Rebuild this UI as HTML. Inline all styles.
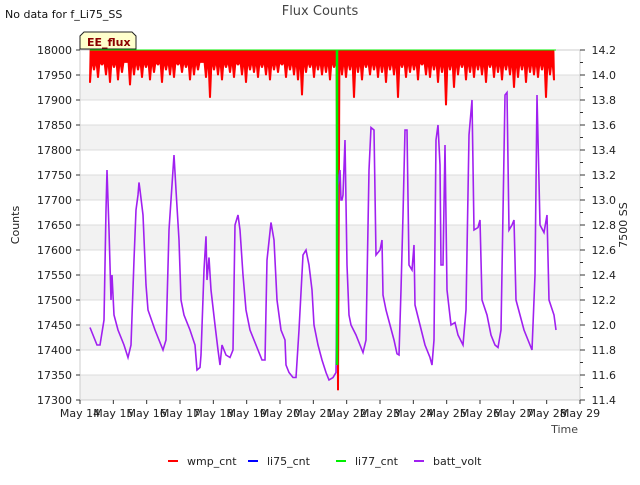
<!DOCTYPE html>
<html><head><meta charset="utf-8"><style>
body{margin:0;background:#fff;font-family:"Liberation Sans","DejaVu Sans",sans-serif}
svg text{font-family:"DejaVu Sans","Liberation Sans",sans-serif}
</style></head><body>
<svg id="c" width="640" height="480" xmlns="http://www.w3.org/2000/svg"></svg>
<script>
const leftTicks=[17300,17350,17400,17450,17500,17550,17600,17650,17700,17750,17800,17850,17900,17950,18000];
const rightTicks=[11.4,11.6,11.8,12.0,12.2,12.4,12.6,12.8,13.0,13.2,13.4,13.6,13.8,14.0,14.2];
const xTickLabels=["May 14","May 15","May 16","May 17","May 18","May 19","May 20","May 21","May 22","May 23","May 24","May 25","May 26","May 27","May 28","May 29"];
const battDays=[0.30,0.51,0.60,0.72,0.78,0.81,0.87,0.93,0.96,1.02,1.14,1.32,1.44,1.53,1.62,1.68,1.74,1.77,1.80,1.89,1.98,2.04,2.25,2.40,2.49,2.58,2.67,2.73,2.82,2.88,2.97,3.03,3.12,3.30,3.45,3.51,3.60,3.63,3.72,3.78,3.81,3.87,3.93,4.05,4.14,4.20,4.26,4.38,4.50,4.59,4.65,4.74,4.80,4.89,4.98,5.10,5.28,5.46,5.55,5.61,5.73,5.82,5.91,6.03,6.15,6.18,6.27,6.39,6.48,6.57,6.69,6.78,6.87,6.96,7.02,7.14,7.26,7.38,7.47,7.59,7.68,7.74,7.80,7.83,7.86,7.89,7.95,8.01,8.07,8.13,8.28,8.40,8.49,8.58,8.67,8.73,8.82,8.88,9.00,9.06,9.09,9.18,9.30,9.42,9.51,9.57,9.63,9.69,9.75,9.81,9.87,9.96,10.02,10.05,10.20,10.35,10.50,10.56,10.62,10.68,10.74,10.80,10.83,10.89,10.95,11.01,11.13,11.25,11.34,11.49,11.58,11.67,11.76,11.82,11.94,12.00,12.06,12.21,12.33,12.45,12.54,12.63,12.75,12.81,12.87,12.96,13.02,13.08,13.20,13.32,13.44,13.56,13.65,13.71,13.80,13.92,14.01,14.07,14.22,14.28];
const battVolt=[11.98,11.84,11.84,12.04,12.92,13.24,12.76,12.2,12.4,12.08,11.96,11.84,11.74,11.84,12.52,12.92,13.04,13.14,13.08,12.88,12.32,12.12,11.96,11.86,11.8,11.88,12.76,13.0,13.36,13.08,12.68,12.2,12.08,11.96,11.84,11.64,11.66,11.76,12.44,12.71,12.36,12.54,12.28,12.0,11.8,11.68,11.84,11.76,11.74,11.8,12.8,12.88,12.76,12.4,12.12,11.96,11.84,11.72,11.72,12.52,12.82,12.68,12.2,11.96,11.88,11.68,11.62,11.58,11.58,11.96,12.56,12.6,12.48,12.28,12.0,11.84,11.72,11.62,11.56,11.58,11.62,13.12,13.24,13.0,13.0,13.04,13.48,12.48,12.08,12.0,11.92,11.84,11.78,11.88,13.24,13.58,13.56,12.56,12.6,12.68,12.24,12.12,12.0,11.88,11.77,11.76,12.28,12.88,13.56,13.56,12.48,12.44,12.64,12.16,12.0,11.84,11.74,11.68,11.88,13.48,13.6,13.28,12.48,12.48,13.44,12.28,12.0,12.02,11.92,11.84,12.12,13.52,13.8,12.76,12.78,12.84,12.2,12.08,11.92,11.84,11.82,11.96,13.84,13.86,12.76,12.8,12.84,12.2,12.08,11.96,11.88,11.8,12.4,13.84,12.8,12.74,12.88,12.2,12.08,11.96];
const wmpStart=0.30, wmpStep=0.12;
const wmpMin=[17935,17960,17945,17970,17950,17935,17965,17940,17955,17975,17930,17950,17960,17945,17965,17940,17955,17970,17935,17960,17950,17945,17970,17955,17965,17940,17950,17960,17975,17945,17905,17960,17950,17940,17965,17955,17945,17970,17950,17935,17960,17955,17945,17965,17950,17940,17960,17955,17970,17945,17960,17950,17940,17910,17955,17965,17945,17960,17950,17955,17940,17965,17320,17950,17945,17960,17905,17955,17940,17965,17950,17960,17945,17955,17935,17960,17950,17905,17965,17945,17955,17960,17940,17970,17950,17945,17960,17935,17955,17890,17960,17925,17950,17965,17940,17955,17945,17960,17950,17935,17965,17945,17955,17940,17960,17950,17925,17945,17960,17935,17955,17950,17945,17960,17905,17950,17940];
const wmpBase=17975;
const li77Day=7.71, li77Lo=17370, li77Hi=18000;

const svg=document.getElementById('c');const NS='http://www.w3.org/2000/svg';
const X0=80,X1=580,Y0=50,Y1=400;
const xs=d=>X0+(X1-X0)*d/15;
const yl=v=>Y1-(v-17300)/700*(Y1-Y0);
const yr=v=>Y1-(v-11.4)/2.8*(Y1-Y0);
function el(t,a,p){const e=document.createElementNS(NS,t);for(const k in a)e.setAttribute(k,a[k]);(p||svg).appendChild(e);return e;}
for(let i=0;i<leftTicks.length-1;i+=2){
 const b=el('rect',{x:X0,y:yl(leftTicks[i+1]),width:X1-X0,height:yl(leftTicks[i])-yl(leftTicks[i+1]),fill:'#f2f2f2'});
 
}
leftTicks.forEach(v=>{const l=el('line',{x1:X0,x2:X1,y1:yl(v),y2:yl(v),stroke:'#dcdcdc','stroke-width':1});
 });
el('rect',{x:X0,y:Y0,width:X1-X0,height:Y1-Y0,fill:'none',stroke:'#ccc'});
leftTicks.forEach(v=>{const t=el('text',{x:X0-8,y:yl(v)+4,'text-anchor':'end','font-size':11,fill:'#222'});t.textContent=v;
 
 el('line',{x1:X0-4,x2:X0,y1:yl(v),y2:yl(v),stroke:'#333'});});
rightTicks.forEach((v,i)=>{const t=el('text',{x:X1+36,y:yr(v)+4,'text-anchor':'end','font-size':11,fill:'#222'});t.textContent=v.toFixed(1);
 
 el('line',{x1:X1,x2:X1+5,y1:yr(v),y2:yr(v),stroke:'#333'});
 if(i<rightTicks.length-1){const m=(v+rightTicks[i+1])/2;el('line',{x1:X1,x2:X1+3,y1:yr(m),y2:yr(m),stroke:'#333'});}});
xTickLabels.forEach((s,i)=>{const t=el('text',{x:xs(i),y:Y1+17,'text-anchor':'middle','font-size':11,fill:'#222'});t.textContent=s;
 
 el('line',{x1:xs(i),x2:xs(i),y1:Y1,y2:Y1+4,stroke:'#333'});});
let p=[];
const lastD=wmpStart+(wmpMin.length-1)*wmpStep;
p.push(xs(wmpStart)+','+yl(18000));
wmpMin.forEach((v,i)=>{const d=wmpStart+i*wmpStep;
 p.push((xs(d)-0.6)+','+yl(v));p.push((xs(d)+0.6)+','+yl(v));
 if(i<wmpMin.length-1)p.push(xs(d+wmpStep/2)+','+yl(wmpBase));});
p.push(xs(lastD)+','+yl(18000));
const wa=el('polygon',{points:p.join(' '),fill:'#ff0000',stroke:'#ff0000','stroke-width':0.8,'stroke-linejoin':'bevel'});

const pts=battDays.map((d,i)=>xs(d)+','+yr(battVolt[i])).join(' ');
const pl=el('polyline',{points:pts,fill:'none',stroke:'#a020f0','stroke-width':1.6});

const g=el('line',{x1:xs(li77Day),x2:xs(li77Day),y1:yl(li77Hi),y2:yl(li77Lo),stroke:'#00ee00','stroke-width':2.5});

el('line',{x1:X0+10,x2:X1-24,y1:Y0,y2:Y0,stroke:'#00ee00','stroke-width':1});
function txt(s,a,n){const t=el('text',a);t.textContent=s;return t;}
txt('Flux Counts',{x:320,y:15,'text-anchor':'middle','font-size':13,fill:'#444'},'chart-title');
txt('No data for f_Li75_SS',{x:5,y:18,'font-size':11,fill:'#111'},'no-data-note');
txt('Counts',{x:19,y:225,'text-anchor':'middle','font-size':11,fill:'#222',transform:'rotate(-90 19 225)'},'y-axis-title');
txt('7500 SS',{x:627,y:225,'text-anchor':'middle','font-size':11,fill:'#222',transform:'rotate(-90 627 225)'},'y2-axis-title');
txt('Time',{x:578,y:433,'text-anchor':'end','font-size':11,fill:'#444'},'x-axis-title');
const tg=el('polygon',{points:'84,32 132,32 136,36 136,49 80,49 80,36',fill:'#ffffcc',stroke:'#222'});

txt('EE_flux',{x:87,y:46,'font-size':11,'font-weight':'bold',fill:'#8b0000'},'ee-flux-label');
const leg=[['wmp_cnt','#ff0000',168],['li75_cnt','#0000ff',248],['li77_cnt','#00ee00',336],['batt_volt','#a020f0',414]];
leg.forEach(([s,c,x])=>{const ln=el('line',{x1:x,x2:x+10,y1:461,y2:461,stroke:c,'stroke-width':2});
 
 txt(s,{x:x+19,y:465,'font-size':11,fill:'#222'},'legend-entry');});
</script>
</body></html>
